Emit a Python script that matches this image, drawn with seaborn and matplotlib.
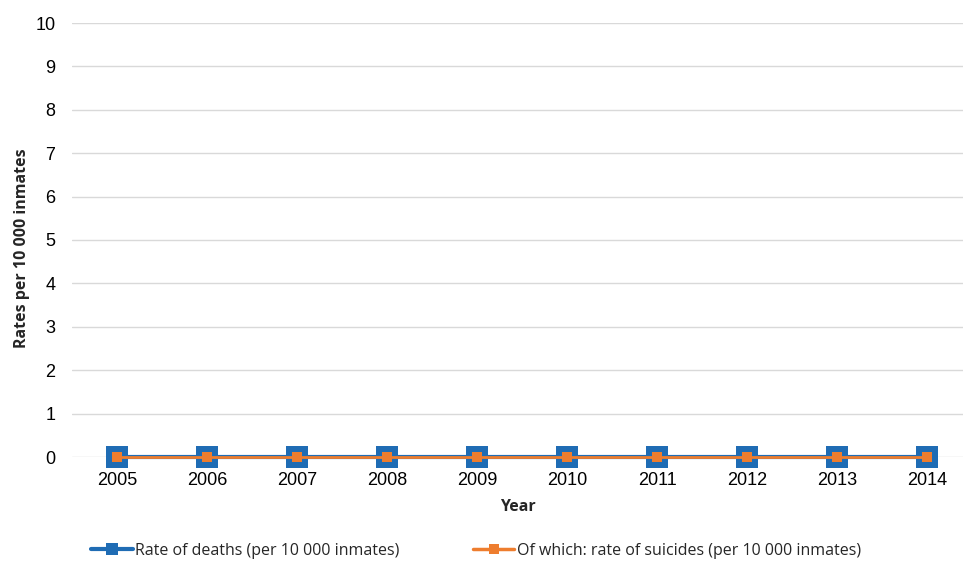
import numpy as np
import pandas as pd
import matplotlib
matplotlib.use("Agg")
import matplotlib.pyplot as plt
from matplotlib.lines import Line2D
import seaborn as sns

# data
years = ["2005", "2006", "2007", "2008", "2009", "2010", "2011", "2012", "2013", "2014"]
death_rate = [0, 0, 0, 0, 0, 0, 0, 0, 0, 0]
suicide_rate = [0, 0, 0, 0, 0, 0, 0, 0, 0, 0]

blue = "#1F6CB4"
orange = "#EE7D2E"

sns.set_theme(style="white")
plt.rcParams['font.family'] = ['Liberation Sans', 'DejaVu Sans']

df = pd.DataFrame({"Year": years, "deaths": death_rate, "suicides": suicide_rate})
df["pos"] = np.arange(len(years))

fig = plt.figure(figsize=(9.63, 5.65), dpi=100)
ax = fig.add_axes([72 / 963, 108 / 565, 1 - 72 / 963, 434 / 565])

sns.lineplot(data=df, x="pos", y="deaths", ax=ax, color=blue, linewidth=3,
             marker="s", markersize=16, markeredgewidth=0, clip_on=False, zorder=3)
sns.lineplot(data=df, x="pos", y="suicides", ax=ax, color=orange, linewidth=2,
             marker="s", markersize=7, markeredgewidth=0, clip_on=False, zorder=4)

ax.set_xlim(-0.5, 9.4)
ax.set_ylim(0, 10)
ax.set_yticks(range(0, 11))
ax.set_xticks(df["pos"])
ax.set_xticklabels(years)
ax.grid(axis="y", color="#D9D9D9", linewidth=1)
ax.set_axisbelow(True)
for s in ax.spines.values():
    s.set_visible(False)
ax.tick_params(axis="both", labelsize=13, length=0, colors="#000000")
ax.tick_params(axis="y", pad=12)
ax.tick_params(axis="x", pad=11)

ax.set_xlabel("Year", fontsize=11.5, fontweight="bold", family=["Open Sans", "DejaVu Sans"], labelpad=7)
ax.set_ylabel("Rates per 10 000 inmates", fontsize=11.5, fontweight="bold",
              family=["Open Sans", "DejaVu Sans"], labelpad=3)
ax.yaxis.set_label_coords(-0.047, 0.48)

handles = [
    Line2D([], [], color=blue, linewidth=3, marker="s", markersize=9, markeredgewidth=0),
    Line2D([], [], color=orange, linewidth=2.5, marker="s", markersize=6.5, markeredgewidth=0),
]
labels = ["Rate of deaths (per 10 000 inmates)", "Of which: rate of suicides (per 10 000 inmates)"]
fig.legend(handles, labels, loc="center", bbox_to_anchor=(476 / 963, 1 - 551 / 565), ncol=2,
           frameon=False, columnspacing=4.6, handlelength=2.6, handletextpad=0.15,
           prop={"family": ["Open Sans", "DejaVu Sans"], "size": 11.5})

fig.savefig("out.png", dpi=100)
